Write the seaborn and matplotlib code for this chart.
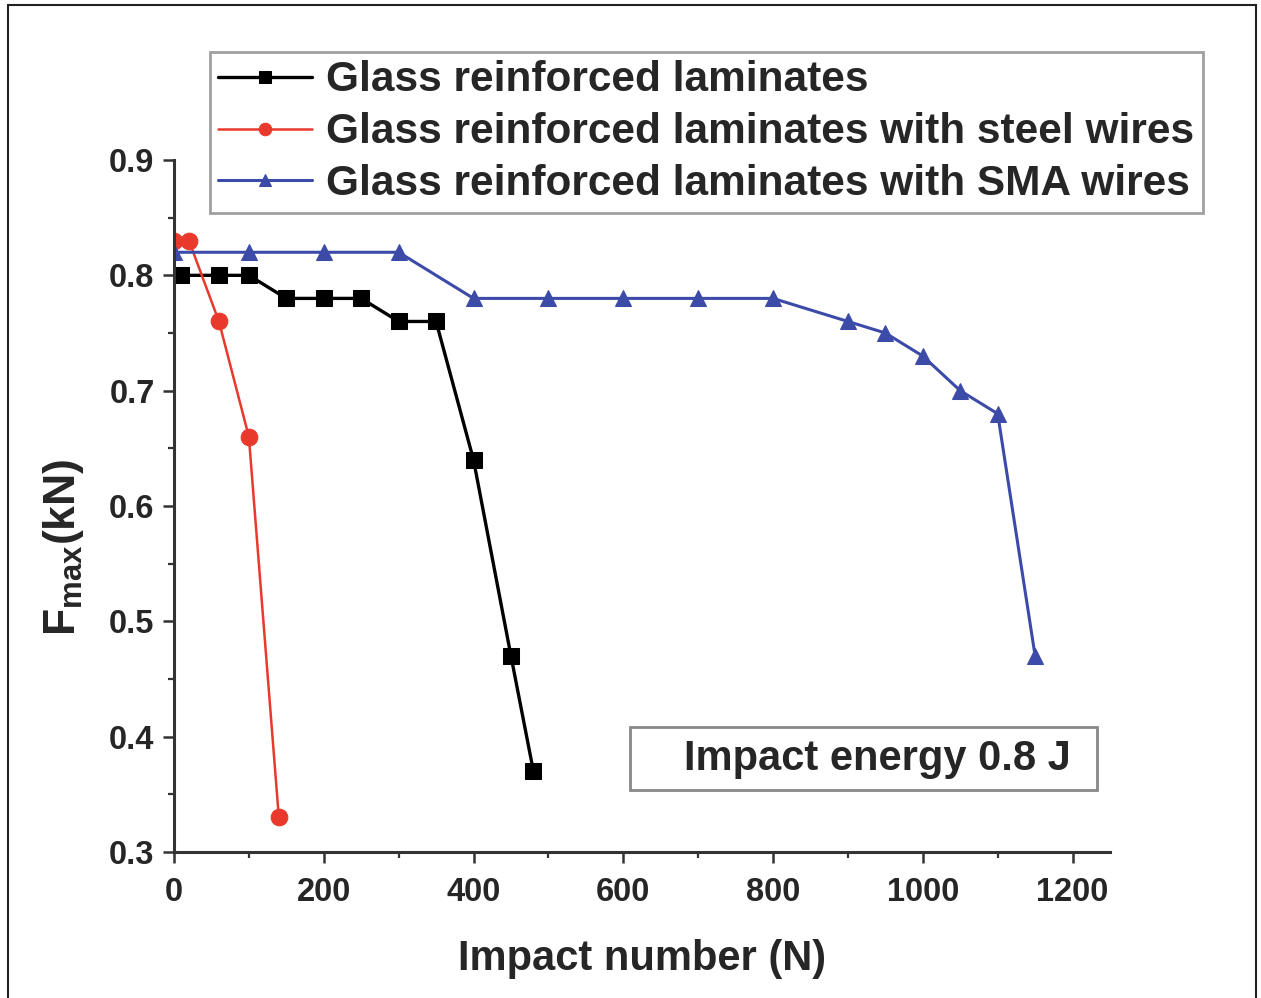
import numpy as np
import pandas as pd
import matplotlib
matplotlib.use("Agg")
import matplotlib.pyplot as plt
from matplotlib.patches import Rectangle
from matplotlib.ticker import MultipleLocator
import seaborn as sns

# data
glass_x = [10, 60, 100, 150, 200, 250, 300, 350, 400, 450, 480]
glass_y = [0.80, 0.80, 0.80, 0.78, 0.78, 0.78, 0.76, 0.76, 0.64, 0.47, 0.37]

steel_x = [0, 20, 60, 100, 140]
steel_y = [0.83, 0.83, 0.76, 0.66, 0.33]

sma_x = [0, 100, 200, 300, 400, 500, 600, 700, 800, 900, 950, 1000, 1050, 1100, 1150]
sma_y = [0.82, 0.82, 0.82, 0.82, 0.78, 0.78, 0.78, 0.78, 0.78, 0.76, 0.75, 0.73, 0.70, 0.68, 0.47]

labels = [
    "Glass reinforced laminates",
    "Glass reinforced laminates with steel wires",
    "Glass reinforced laminates with SMA wires",
]
x_ticks = [0, 200, 400, 600, 800, 1000, 1200]
y_ticks = [0.3, 0.4, 0.5, 0.6, 0.7, 0.8, 0.9]

sns.set_style("ticks")
plt.rcParams["font.family"] = ["Liberation Sans", "DejaVu Sans"]
plt.rcParams["font.weight"] = "bold"
plt.rcParams["mathtext.default"] = "regular"

fig = plt.figure(figsize=(12.61, 9.98), dpi=100)
ax = fig.add_axes([174 / 1261, 1 - 852 / 998, (1110 - 174) / 1261, (852 - 160) / 998])

series = [
    (glass_x, glass_y, "s", "#000000", 11, 2.4),
    (steel_x, steel_y, "o", "#e8392c", 12, 1.8),
    (sma_x, sma_y, "^", "#3c4aa8", 12, 2.2),
]
for (xs, ys, mk, col, ms, lw), lab in zip(series, labels):
    df = pd.DataFrame({"n": xs, "f": ys})
    sns.lineplot(data=df, x="n", y="f", ax=ax, marker=mk, color=col, label=lab,
                 markersize=ms, markeredgecolor=col, linewidth=lw, sort=False)

ax.set_xlim(0, 1250)
ax.set_ylim(0.3, 0.9)
ax.set_xticks(x_ticks)
ax.set_yticks(y_ticks)
ax.xaxis.set_minor_locator(MultipleLocator(100))
ax.yaxis.set_minor_locator(MultipleLocator(0.05))
ax.set_xticklabels([str(t) for t in x_ticks])
ax.set_yticklabels([f"{t:.1f}" for t in y_ticks])
ax.tick_params(axis="both", which="major", direction="out", length=8, width=1.8,
               labelsize=23.5, color="#333333")
ax.tick_params(axis="x", which="major", pad=10)
ax.tick_params(axis="y", which="major", pad=6)
ax.tick_params(axis="both", which="minor", direction="out", length=4.5, width=1.6,
               color="#333333")
for s in ["top", "right"]:
    ax.spines[s].set_visible(False)
for s in ["left", "bottom"]:
    ax.spines[s].set_linewidth(2.2)
    ax.spines[s].set_color("#333333")

ax.set_xlabel("Impact number (N)", fontsize=30, fontweight="bold", labelpad=22)
ax.set_ylabel(r"F$_{max}$(kN)", fontsize=32, fontweight="bold")
ax.yaxis.set_label_coords(-0.094, 0.44)

leg = ax.legend(loc="upper left", bbox_to_anchor=(210 / 1261, 1 - 52 / 998),
                bbox_transform=fig.transFigure, borderaxespad=0, fontsize=30.5,
                frameon=True, fancybox=False, handlelength=2.2, handletextpad=0.35,
                labelspacing=0.28, borderpad=0.2, markerscale=0.75)
leg.get_frame().set_edgecolor("#888888")
leg.get_frame().set_linewidth(2)
for t in leg.get_texts():
    t.set_fontweight("bold")

# boxed note in the lower right
ax.add_patch(Rectangle((0.487, 0.0896), 0.499, 0.091, transform=ax.transAxes,
                       fill=False, edgecolor="#888888", linewidth=2, clip_on=False))
ax.text(0.752, 0.135, "Impact energy 0.8 J", transform=ax.transAxes,
        ha="center", va="center", fontsize=30, fontweight="bold")

# frame around the whole picture
fig.patches.append(Rectangle((8 / 1261, -0.02), (1256 - 8) / 1261, 1.02 - 5 / 998,
                             transform=fig.transFigure, fill=False,
                             edgecolor="#222222", linewidth=1.5))

fig.savefig("out.png", dpi=100)
